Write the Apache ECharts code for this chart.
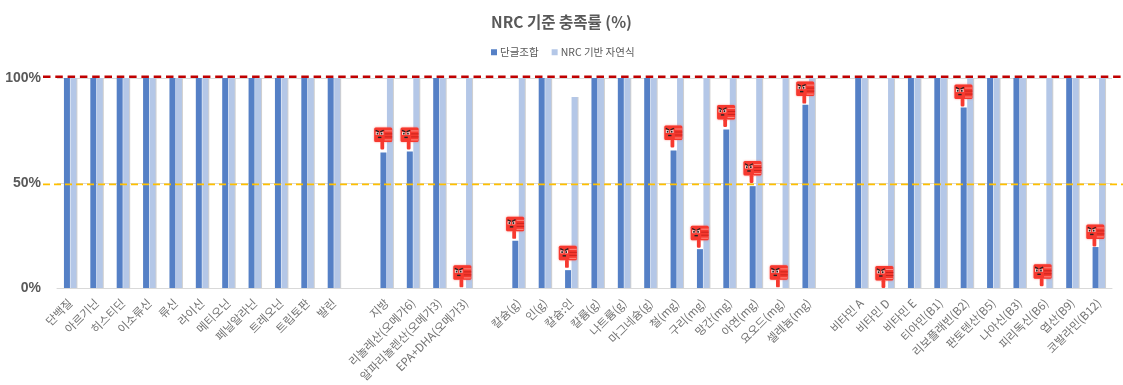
<!DOCTYPE html>
<html>
<head>
<meta charset="utf-8">
<style>html,body{margin:0;padding:0;background:#fff}#c{width:1123px;height:385px}</style>
<script src="https://cdn.jsdelivr.net/npm/echarts@6/dist/echarts.min.js"></script>
</head>
<body>
<div id="c"></div>
<script>
const categories = ['단백질','아르기닌','히스티딘','이소류신','류신','라이신','메티오닌','페닐알라닌','트레오닌','트립토판','발린',' ',
  '지방','리놀레산(오메가6)','알파리놀렌산(오메가3)','EPA+DHA(오메가3)',' ',
  '칼슘(g)','인(g)','칼슘:인','칼륨(g)','나트륨(g)','마그네슘(g)','철(mg)','구리(mg)','망간(mg)','아연(mg)','요오드(mg)','셀레늄(mg)',' ',
  '비타민 A','비타민 D','비타민 E','티아민(B1)','리보플래빈(B2)','판토텐산(B5)','나아신(B3)','피리독신(B6)','엽산(B9)','코발라민(B12)'];
const supplementValues = [100,100,100,100,100,100,100,100,100,100,100,null,
  64.5,65,100,0,null,
  22.5,100,8.5,100,100,100,65.5,18.5,75.5,48.5,0,87.3,null,
  100,0,100,100,86,100,100,0,100,19.5];
const naturalValues = [100,100,100,100,100,100,100,100,100,100,100,null,
  100,100,100,100,null,
  100,100,91,100,100,100,100,100,100,100,100,100,null,
  100,100,100,100,100,100,100,100,100,100];
// category, value at the tip of the thumbs-down marker
const warningMarks = [[12,66],[13,66],[15,0.3],[17,23.4],[19,9.6],[23,66.9],[24,19.2],[25,76.7],[26,50],[27,0.3],[28,87.8],[31,0],[34,86.4],[37,0.8],[39,19.8]];
const referenceLines = [[100.6,'#c00000',2.5,[7.5,4.8]],[49.35,'#ffc000',1.6,[7,4]]];
const yTicks = {min:0,max:100,interval:50};

const chart = echarts.init(document.getElementById('c'),null,{renderer:'canvas'});
const FONT = '"Noto Sans CJK KR","Noto Sans",sans-serif';

function thumb(params, api){
  const p = api.coord([api.value(0), api.value(1)]);
  const sx = p[0]-4.5, tip = p[1];
  const R='#f6392f', D='#c9241c', L='#ff8a80';
  const top = tip-22, left = sx-8;
  const kids = [
    {type:'rect',shape:{x:left,y:top,width:18,height:14.5,r:1.5},style:{fill:R,shadowBlur:2,shadowColor:'rgba(255,80,70,.7)'}},
    {type:'rect',shape:{x:sx-1.8,y:top+14,width:3.8,height:8,r:1.2},style:{fill:R}},
    {type:'rect',shape:{x:left+10.5,y:top+3,width:7.5,height:1},style:{fill:L}},
    {type:'rect',shape:{x:left+10.5,y:top+6,width:7.5,height:1},style:{fill:D}},
    {type:'rect',shape:{x:left+10.5,y:top+9,width:7.5,height:1},style:{fill:D}},
    {type:'rect',shape:{x:left+10.5,y:top+12,width:7,height:1},style:{fill:L}},
    {type:'rect',shape:{x:left+1.5,y:top+4.5,width:3.2,height:3},style:{fill:'#ffd9d6'}},
    {type:'rect',shape:{x:left+6,y:top+4.5,width:3.2,height:3},style:{fill:'#ffd9d6'}},
    {type:'rect',shape:{x:left+2.5,y:top+5.3,width:1.6,height:1.8},style:{fill:'#222'}},
    {type:'rect',shape:{x:left+6.6,y:top+5.3,width:1.6,height:1.8},style:{fill:'#222'}},
    {type:'line',shape:{x1:left+1.5,y1:top+2.8,x2:left+4.8,y2:top+4.5},style:{stroke:'#222',lineWidth:1.2}},
    {type:'line',shape:{x1:left+9.5,y1:top+2.8,x2:left+6,y2:top+4.5},style:{stroke:'#222',lineWidth:1.2}},
    {type:'rect',shape:{x:left+3.8,y:top+9.3,width:3.4,height:1.4},style:{fill:'#222'}}
  ];
  return {type:'group',children:kids};
}

function refLine(params, api){
  const r = referenceLines[params.dataIndex];
  const y = api.coord([0, api.value(0)])[1];
  return {type:'line',shape:{x1:43,y1:y,x2:1123,y2:y},
    style:{stroke:r[1],lineWidth:r[2],lineDash:r[3]}};
}

chart.setOption({
  animation:false,
  backgroundColor:'#fff',
  title:{text:'NRC 기준 충족률 (%)',left:'center',top:9,
    textStyle:{fontFamily:FONT,fontSize:15.5,fontWeight:'bold',color:'#595959'}},
  legend:{top:42,left:486,icon:'rect',itemWidth:6,itemHeight:6,itemGap:13,
    data:['단글조합','NRC 기반 자연식'],
    textStyle:{fontFamily:FONT,fontSize:10.5,color:'#595959',padding:[0,0,0,-2]}},
  grid:{left:57,right:11,top:78,bottom:97,containLabel:false},
  xAxis:{type:'category',data:categories,
    axisTick:{show:false},
    axisLine:{lineStyle:{color:'#d9d9d9',width:1}},
    axisLabel:{interval:0,rotate:45,margin:13,fontFamily:FONT,fontSize:11.5,color:'#737373'}},
  yAxis:{type:'value',min:yTicks.min,max:yTicks.max,interval:yTicks.interval,
    axisLine:{show:false},axisTick:{show:false},
    splitLine:{lineStyle:{color:'#d9d9d9',width:1}},
    axisLabel:{formatter:'{value}%',margin:16,padding:[2,0,0,0],fontFamily:'"Liberation Sans",'+FONT,fontSize:14,fontWeight:'bold',color:'#595959'}},
  series:[
    {name:'단글조합',type:'bar',data:supplementValues,barWidth:6,barGap:'8%',
      itemStyle:{color:'#5580c6'},z:2},
    {name:'NRC 기반 자연식',type:'bar',data:naturalValues,barWidth:6,
      itemStyle:{color:'#b4c7e7',shadowColor:'#d0d0d0',shadowOffsetX:1,shadowBlur:0},z:2},
    {name:'ref',type:'custom',renderItem:refLine,clip:false,z:3,silent:true,
      data:referenceLines.map(r=>[r[0]]),encode:{y:0},tooltip:{show:false}},
    {name:'warn',type:'custom',renderItem:thumb,clip:false,z:4,silent:true,
      data:warningMarks,encode:{x:0,y:1}}
  ]
});
</script>
</body>
</html>
